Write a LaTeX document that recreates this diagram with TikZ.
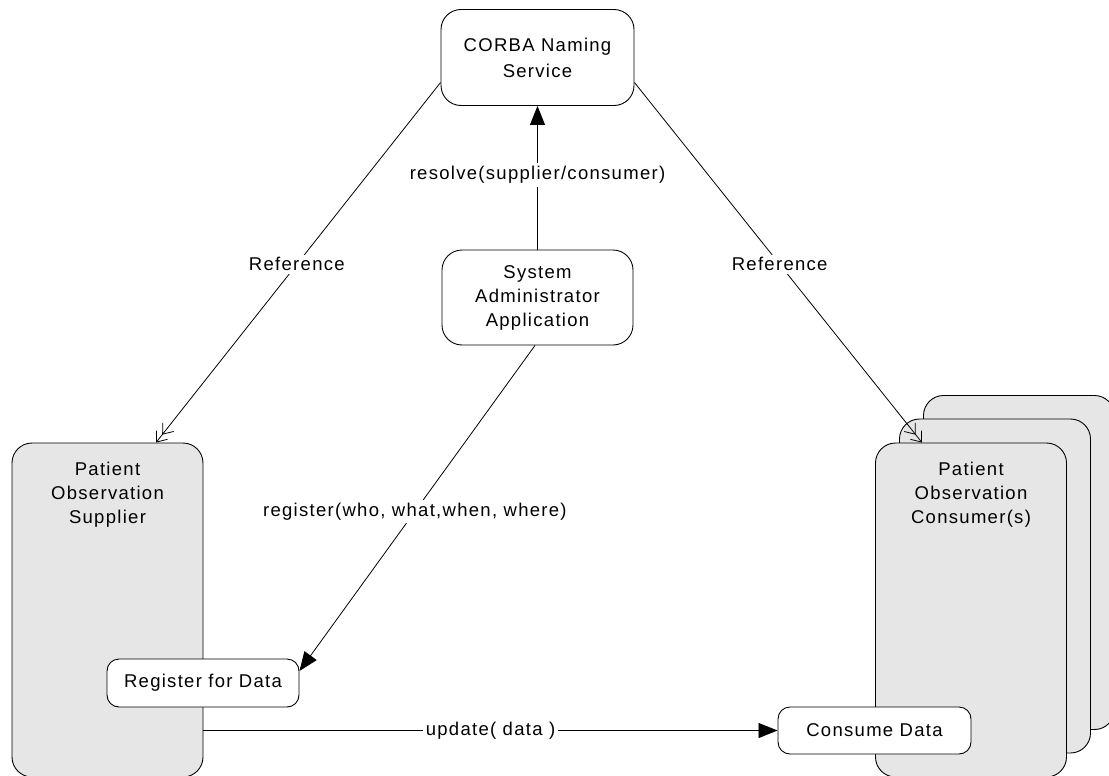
\documentclass[tikz,border=0pt]{standalone}
\usepackage{fontspec}
\setmainfont{Liberation Sans}[LetterSpace=7]
\usetikzlibrary{arrows.meta,calc}
\definecolor{boxgray}{RGB}{230,230,230}
\begin{document}
\begin{tikzpicture}[x=1pt,y=-1pt,
  every node/.style={font=\fontsize{18.5pt}{24pt}\selectfont, align=center},
  bigbox/.style={draw, fill=boxgray, rounded corners=20pt, minimum width=191pt, minimum height=334pt, inner sep=0pt, line width=0.9pt},
  svcbox/.style={draw, fill=white, rounded corners=20pt, minimum width=192pt, minimum height=96pt, inner sep=0pt, line width=0.9pt},
  smallbox/.style={draw, fill=white, rounded corners=12pt, minimum width=193pt, minimum height=48pt, inner sep=0pt, line width=0.9pt},
  boxtext/.style={inner sep=0pt, anchor=north},
  lbl/.style={fill=white, inner sep=3pt},
  conn/.style={line width=0.8pt},
  openarrow/.style={conn, -{Straight Barb[length=9pt,width=14pt] Straight Barb[length=9pt,width=14pt]}},
  fillarrow/.style={conn, -{Triangle[length=19pt,width=15pt]}}
]
\useasboundingbox (0,0) rectangle (1109,776);
\clip (0,0) rectangle (1109,776);

% nodes
\node[svcbox, minimum width=193pt, font=\fontsize{18.5pt}{26pt}\selectfont] (corba) at (537.5,57.5) {CORBA Naming\\Service};
\node[svcbox, minimum width=191pt, minimum height=95pt] (sys) at (537.5,297.5) {System\\Administrator\\Application};

\node[bigbox] (sup) at (107.5,610) {};
\node[boxtext] (suptxt) at (107.5,462) {Patient\\Observation\\Supplier};
\node[smallbox, minimum width=192pt] (reg) at (203,683) {Register for Data};

\node[bigbox] (con3) at (1019,562.5) {};
\node[bigbox] (con2) at (995,586) {};
\node[bigbox] (con1) at (971,610) {};
\node[boxtext] (contxt) at (971,462) {Patient\\Observation\\Consumer(s)};
\node[smallbox, minimum height=47pt] (cons) at (874.5,730.5) {Consume Data};

% connectors
\draw[openarrow] ([yshift=-25pt]corba.west) -- node[lbl, pos=0.505] (ref1) {Reference} ([xshift=48.5pt]sup.north);
\draw[openarrow] ([yshift=-25pt]corba.east) -- node[lbl, pos=0.505] (ref2) {Reference} ([xshift=-49pt]con1.north);
\draw[fillarrow] (sys.north) -- node[lbl, pos=0.52] (res) {resolve(supplier/consumer)} (corba.south);
\draw[fillarrow] ([xshift=-2.5pt]sys.south) -- node[lbl, pos=0.51] (regl) {register(who, what,when, where)} ([yshift=12pt]reg.east);
\draw[fillarrow] (cons.west -| sup.east) -- node[lbl, pos=0.5] (upd) {update( data )} (cons.west);
\end{tikzpicture}
\end{document}
